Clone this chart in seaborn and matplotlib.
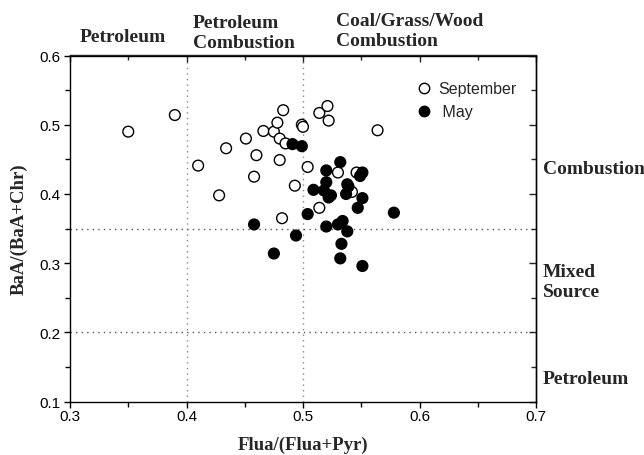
import matplotlib
matplotlib.use("Agg")
import matplotlib.pyplot as plt
import seaborn as sns
import pandas as pd
from matplotlib.lines import Line2D
from matplotlib.ticker import MultipleLocator

# ---- data ----
sep_x = [0.350, 0.390, 0.410, 0.434, 0.428, 0.451, 0.460, 0.458, 0.466, 0.475,
         0.478, 0.483, 0.480, 0.485, 0.480, 0.493, 0.482, 0.499, 0.500, 0.504,
         0.514, 0.521, 0.522, 0.514, 0.530, 0.546, 0.542, 0.564]
sep_y = [0.490, 0.514, 0.441, 0.466, 0.398, 0.480, 0.456, 0.425, 0.491, 0.490,
         0.503, 0.521, 0.480, 0.473, 0.449, 0.412, 0.365, 0.500, 0.497, 0.439,
         0.517, 0.527, 0.506, 0.380, 0.431, 0.431, 0.403, 0.492]
may_x = [0.491, 0.499, 0.532, 0.520, 0.520, 0.509, 0.518, 0.522, 0.524, 0.538,
         0.539, 0.537, 0.504, 0.458, 0.494, 0.475, 0.520, 0.530, 0.534, 0.538,
         0.533, 0.532, 0.551, 0.549, 0.551, 0.547, 0.578, 0.551]
may_y = [0.472, 0.469, 0.446, 0.434, 0.417, 0.406, 0.405, 0.395, 0.398, 0.414,
         0.411, 0.400, 0.371, 0.356, 0.340, 0.314, 0.353, 0.356, 0.361, 0.346,
         0.328, 0.307, 0.431, 0.426, 0.394, 0.380, 0.373, 0.296]
series_names = ["September", "May"]
x_label = "Flua/(Flua+Pyr)"
y_label = "BaA/(BaA+Chr)"
x_ticks = [0.3, 0.4, 0.5, 0.6, 0.7]
y_ticks = [0.1, 0.2, 0.3, 0.4, 0.5, 0.6]
x_guides = [0.4, 0.5]
y_guides = [0.35, 0.2]

df = pd.DataFrame({
    "x": sep_x + may_x,
    "y": sep_y + may_y,
    "Month": [series_names[0]] * len(sep_x) + [series_names[1]] * len(may_x),
})

sns.set_style("ticks")
plt.rcParams["font.family"] = ["Liberation Sans", "DejaVu Sans"]

W, H = 644, 456
fig = plt.figure(figsize=(W / 100, H / 100), dpi=100)
ax = fig.add_axes([70 / W, 1 - 402.7 / H, (536 - 70) / W, (402.7 - 56.5) / H])

for gx in x_guides:
    ax.axvline(gx, color="#888888", ls=(0, (1, 3)), lw=1.0, zorder=0)
for gy in y_guides:
    ax.axhline(gy, color="#555555", ls=(0, (1, 3)), lw=1.0, zorder=0)

sns.scatterplot(data=df, x="x", y="y", hue="Month",
                palette={"September": "white", "May": "black"},
                edgecolor="black", linewidth=1.0, s=60, ax=ax, legend=False,
                zorder=3)

ax.set_xlim(0.3, 0.7)
ax.set_ylim(0.1, 0.6)
ax.set_xticks(x_ticks)
ax.set_yticks(y_ticks)
ax.set_xticklabels([f"{t:g}" for t in x_ticks])
ax.set_yticklabels([f"{t:g}" for t in y_ticks])
ax.xaxis.set_minor_locator(MultipleLocator(0.05))
ax.yaxis.set_minor_locator(MultipleLocator(0.05))
ax.tick_params(which="major", direction="out", length=4.5, width=1, labelsize=11,
               color="black", labelcolor="black", pad=2)
ax.tick_params(axis="x", which="major", pad=0.5)
ax.tick_params(which="minor", direction="out", length=3.5, width=1, color="black")
for sp in ax.spines.values():
    sp.set_color("black")
    sp.set_linewidth(1.0)

secx = ax.secondary_xaxis("top")
secx.set_xticks(x_ticks)
secx.xaxis.set_minor_locator(MultipleLocator(0.05))
secx.tick_params(which="major", direction="in", length=5, width=1, labeltop=False)
secx.tick_params(which="minor", direction="in", length=3.5, width=1)
secx.spines["top"].set_linewidth(1.0)
secy = ax.secondary_yaxis("right")
secy.set_yticks(y_ticks)
secy.yaxis.set_minor_locator(MultipleLocator(0.05))
secy.tick_params(which="major", direction="in", length=5, width=1, labelright=False)
secy.tick_params(which="minor", direction="in", length=3.5, width=1)
secy.spines["right"].set_linewidth(1.0)

serif_bold = dict(family=["Liberation Serif", "DejaVu Serif"], fontweight="bold")
ax.set_xlabel(x_label, fontsize=13.5, labelpad=9.5, **serif_bold)
ax.set_ylabel(y_label, fontsize=13.5, labelpad=9, **serif_bold)

handles = [
    Line2D([], [], marker="o", ls="", markerfacecolor="white",
           markeredgecolor="black", markersize=7.5, markeredgewidth=1.0),
    Line2D([], [], marker="o", ls="", markerfacecolor="black",
           markeredgecolor="black", markersize=7.5, markeredgewidth=1.0),
]
ax.legend(handles, [series_names[0], " " + series_names[1]], loc="upper left",
          bbox_to_anchor=((408 - 70) / 466, 1 - (76 - 56.5) / 346.2),
          frameon=False, fontsize=11.5, handletextpad=0.3, labelspacing=0.5,
          borderaxespad=0, handlelength=1.2)

def ftext(px, py, s, **kw):
    fig.text(px / W, 1 - py / H, s, fontsize=14, va="center", ha="left",
             linespacing=1.2, **serif_bold, **kw)

ftext(80, 38, "Petroleum")
ftext(193, 33.5, "Petroleum\nCombustion")
ftext(336, 31.5, "Coal/Grass/Wood\nCombustion")
ftext(543, 170, "Combustion")
ftext(543, 282.5, "Mixed\nSource")
ftext(543, 380, "Petroleum")

fig.savefig("out.png", dpi=100)
